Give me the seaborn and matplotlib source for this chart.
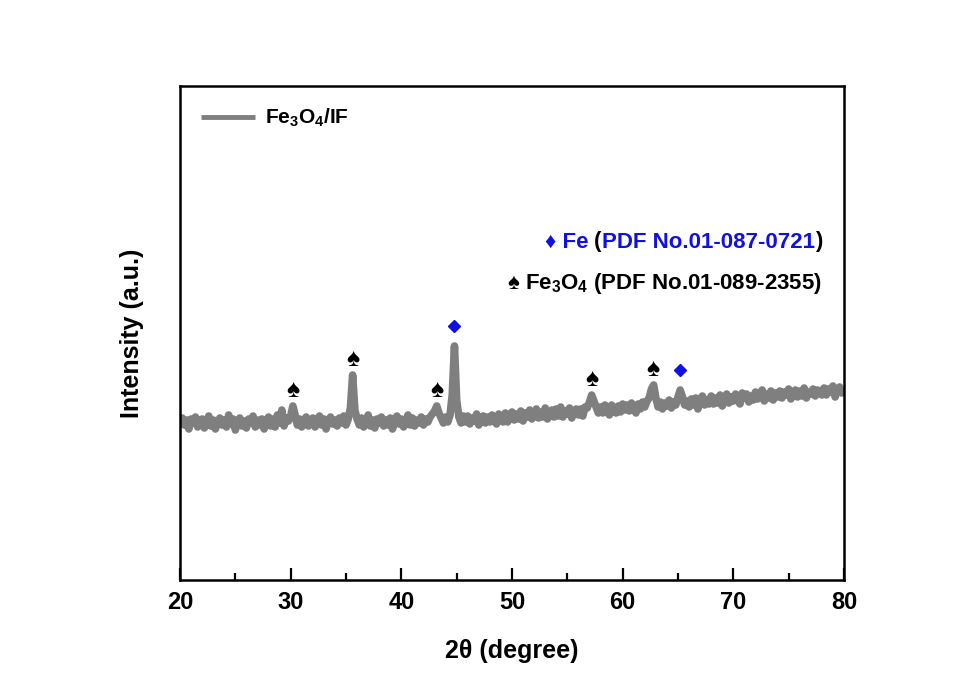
import numpy as np
import pandas as pd
import matplotlib
matplotlib.use("Agg")
import matplotlib.pyplot as plt
from matplotlib.offsetbox import TextArea, HPacker, AnchoredOffsetbox
import seaborn as sns

# XRD pattern of Fe3O4/IF, 2-theta from 20 to 80 deg in 0.2 deg steps
two_theta = np.round(np.arange(20.0, 80.0001, 0.2), 1)
intensity = [
    153, 162, 155, 160, 151, 161, 157, 163, 153, 158,   # 20.0 - 21.8
    161, 152, 159, 164, 154, 160, 151, 158, 162, 155,   # 22.0 - 23.8
    160, 153, 165, 156, 161, 150, 158, 162, 154, 159,   # 24.0 - 25.8
    152, 161, 157, 164, 153, 160, 155, 161, 151, 158,   # 26.0 - 27.8
    163, 154, 161, 153, 165, 157, 170, 154, 162, 159,   # 28.0 - 29.8
    164, 174, 165, 155, 161, 153, 160, 163, 154, 159,   # 30.0 - 31.8
    162, 153, 158, 164, 155, 161, 151, 159, 163, 156,   # 32.0 - 33.8
    160, 154, 162, 157, 164, 155, 161, 172, 205, 170,   # 34.0 - 35.8
    161, 155, 162, 153, 159, 165, 154, 160, 152, 161,   # 36.0 - 37.8
    157, 163, 154, 160, 155, 162, 151, 158, 164, 156,   # 38.0 - 39.8
    161, 153, 159, 165, 155, 162, 154, 160, 157, 163,   # 40.0 - 41.8
    155, 161, 158, 163, 166, 169, 174, 167, 162, 157,   # 42.0 - 43.8
    163, 158, 165, 185, 234, 180, 163, 157, 164, 158,   # 44.0 - 45.8
    164, 156, 162, 159, 166, 155, 161, 164, 157, 163,   # 46.0 - 47.8
    158, 165, 160, 156, 166, 161, 158, 167, 158, 164,   # 48.0 - 49.8
    168, 160, 166, 161, 169, 159, 167, 163, 170, 161,   # 50.0 - 51.8
    165, 171, 162, 168, 163, 172, 161, 167, 170, 163,   # 52.0 - 53.8
    171, 164, 173, 163, 169, 166, 172, 162, 168, 171,   # 54.0 - 55.8
    165, 171, 164, 173, 172, 178, 185, 179, 173, 167,   # 56.0 - 57.8
    173, 167, 175, 169, 165, 175, 170, 167, 174, 168,   # 58.0 - 59.8
    176, 170, 175, 169, 177, 172, 167, 176, 171, 178,   # 60.0 - 61.8
    173, 179, 182, 191, 195, 182, 173, 178, 171, 177,   # 62.0 - 63.8
    174, 180, 172, 178, 175, 183, 190, 183, 175, 179,   # 64.0 - 65.8
    173, 181, 175, 182, 171, 179, 184, 175, 180, 176,   # 66.0 - 67.8
    184, 176, 182, 177, 185, 174, 181, 186, 177, 183,   # 68.0 - 69.8
    179, 186, 180, 176, 187, 182, 186, 178, 184, 180,   # 70.0 - 71.8
    188, 181, 185, 190, 179, 186, 182, 189, 180, 187,   # 72.0 - 73.8
    183, 189, 182, 188, 185, 191, 181, 187, 190, 183,   # 74.0 - 75.8
    189, 184, 192, 182, 188, 186, 191, 184, 190, 187,   # 76.0 - 77.8
    185, 192, 185, 191, 188, 194, 183, 190, 193, 187,   # 78.0 - 79.8
    191,                                                 # 80.0
]

# indexed reflections
fe3o4_peaks = [30.2, 35.6, 43.2, 57.2, 62.7]
fe_peaks = [44.8, 65.2]

x_ticks = [20, 30, 40, 50, 60, 70, 80]

sns.set_style("white")
plt.rcParams["font.family"] = ["Liberation Sans", "DejaVu Sans"]
plt.rcParams["font.weight"] = "bold"
plt.rcParams["text.color"] = "black"
plt.rcParams["axes.labelcolor"] = "black"
plt.rcParams["xtick.color"] = "black"
plt.rcParams["mathtext.fontset"] = "custom"
plt.rcParams["mathtext.rm"] = "Liberation Sans:bold"
plt.rcParams["mathtext.it"] = "Liberation Sans:bold"
plt.rcParams["mathtext.bf"] = "Liberation Sans:bold"

df = pd.DataFrame({"two_theta": two_theta, "intensity": intensity})

fig = plt.figure(figsize=(9.68, 6.87), dpi=100)
ax = fig.add_axes([180 / 968, 1 - 580 / 687, 664 / 968, 494 / 687])

line_color = "#7f7f7f"
sns.lineplot(data=df, x="two_theta", y="intensity", color=line_color,
             linewidth=5.5, label=r"Fe$_3$O$_4$/IF", ax=ax)
trace = ax.get_lines()[0]
trace.set_solid_joinstyle("round")
trace.set_solid_capstyle("butt")

ax.set_xlim(20, 80)
ax.set_ylim(0, 494)
ax.set_xticks(x_ticks)
ax.set_xticks(np.arange(25, 80, 10), minor=True)
ax.set_yticks([])
ax.tick_params(axis="x", which="major", direction="in", length=9, width=1.6,
               labelsize=17, pad=8, top=False, bottom=True, colors="black")
ax.tick_params(axis="x", which="minor", direction="in", length=5, width=1.6,
               top=False, bottom=True, colors="black")
for lab in ax.get_xticklabels():
    lab.set_fontweight("bold")
for sp in ax.spines.values():
    sp.set_linewidth(1.8)
    sp.set_color("black")

ax.set_xlabel("2θ (degree)", fontsize=18, fontweight="bold", labelpad=18,
              color="black")
ax.set_ylabel("Intensity (a.u.)", fontsize=18, fontweight="bold", labelpad=26,
              color="black")

leg = ax.legend(loc="upper left", frameon=False, fontsize=15, handlelength=2.6,
                handletextpad=0.5, borderaxespad=0.6)
for h in leg.get_lines():
    h.set_linewidth(3.5)

# peak markers placed above the local maxima
def local_max(x0):
    sel = df[(df.two_theta >= x0 - 0.3) & (df.two_theta <= x0 + 0.3)]
    return sel.intensity.max()

for p in fe3o4_peaks:
    ax.text(p, local_max(p) + 16, "♠", ha="center", va="center",
            fontsize=18, color="black")
blue = "#1010e0"
for p in fe_peaks:
    ax.plot(p, local_max(p) + 20, marker="D", markersize=6.5, color=blue,
            linestyle="none")

fs = 16
row1 = HPacker(children=[
    TextArea("♦ Fe ", textprops=dict(color=blue, fontsize=fs, fontweight="bold")),
    TextArea("(", textprops=dict(color="black", fontsize=fs, fontweight="bold")),
    TextArea("PDF No.01-087-0721", textprops=dict(color=blue, fontsize=fs, fontweight="bold")),
    TextArea(")", textprops=dict(color="black", fontsize=fs, fontweight="bold")),
], align="baseline", pad=0, sep=0)
ab1 = AnchoredOffsetbox(loc="center right", child=row1, frameon=False, pad=0,
                        bbox_to_anchor=(822 / 968, 1 - 242 / 687),
                        bbox_transform=fig.transFigure, borderpad=0)
ax.add_artist(ab1)

row2 = HPacker(children=[
    TextArea("♠ Fe$_3$O$_4$ (PDF No.01-089-2355)",
             textprops=dict(color="black", fontsize=fs, fontweight="bold")),
], align="baseline", pad=0, sep=0)
ab2 = AnchoredOffsetbox(loc="center right", child=row2, frameon=False, pad=0,
                        bbox_to_anchor=(822 / 968, 1 - 284 / 687),
                        bbox_transform=fig.transFigure, borderpad=0)
ax.add_artist(ab2)

fig.savefig("out.png", dpi=100, facecolor="white")
